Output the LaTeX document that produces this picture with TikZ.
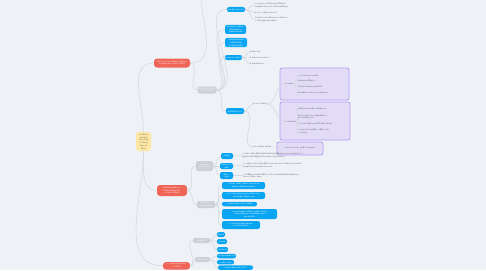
\documentclass[tikz,border=0pt]{standalone}
\usepackage{fontspec}
\newfontfamily\thfont[Script=Thai]{Loma}
\usetikzlibrary{backgrounds}
\definecolor{bg}{HTML}{EEF2F6}
\definecolor{lineC}{HTML}{D3DAE1}
\definecolor{blueC}{HTML}{0AA5F2}
\definecolor{redC}{HTML}{EF6558}
\definecolor{grayC}{HTML}{CDD1D5}
\definecolor{yelC}{HTML}{FDE7A2}
\definecolor{purF}{HTML}{E3DCF6}
\definecolor{purD}{HTML}{B79CF2}
\definecolor{txt}{HTML}{5A5F66}
\tikzset{
  base/.style={inner sep=0pt, align=center, font=\thfont\fontsize{2}{2.7}\selectfont, rounded corners=2pt},
  sz/.style 2 args={minimum width=#1pt, minimum height=#2pt},
  bnode/.style={base, fill=blueC, text=white},
  rnode/.style={base, fill=redC, text=white, rounded corners=3pt},
  gnode/.style={base, fill=grayC, text=white},
  cnode/.style={base, fill=yelC, text=txt, rounded corners=3pt},
  tnode/.style={base, text=txt, align=left, anchor=west},
  pbox/.style={fill=purF, draw=purD, line width=0.8pt, rounded corners=2pt},
  conn/.style={draw=lineC, line width=0.6pt},
  cv/.style={out=0, in=180}
}
\begin{document}
\begin{tikzpicture}[x=1pt, y=-1pt]
\useasboundingbox (0,0) rectangle (486,270);
% central
\node[cnode, sz={15}{19}] (c) at (143.5,141.5) {การพัฒนา\\หลักสูตร\\และการจัด\\การเรียนรู้\\ในสถาน\\ศึกษา};
% main branches
\node[rnode, sz={36}{9}] (r1) at (172,63) {หลักการและแนวคิดของการพัฒนา\\หลักสูตรและการจัดการเรียนรู้};
\node[rnode, sz={30}{11}] (r2) at (172,190.5) {องค์ประกอบของการ\\พัฒนาหลักสูตรและ\\การจัดการเรียนรู้};
\node[rnode, sz={27}{7.5}] (r3) at (176.5,265.8) {การวัดและประเมินผล\\การเรียนรู้};
% gray
\coordinate (g0) at (200,-12);
\node[gnode, sz={19}{7}] (g1) at (207,90) {ประเภทของหลักสูตร\\และการเรียนรู้};
\node[gnode, sz={17}{10}] (g2) at (204.5,166) {รูปแบบการ\\จัดการเรียนรู้};
\node[gnode, sz={18}{7}] (g3) at (206,204.5) {ขั้นตอนการ\\พัฒนาหลักสูตร};
\node[gnode, sz={17}{5}] (g4) at (201.5,240.5) {เครื่องมือ};
\node[gnode, sz={15}{5}] (g5) at (202.5,259.5) {วิธีการวัดผล};
% blue branch 1
\node[bnode, sz={18}{5}] (b1) at (236,9.5) {หลักสูตรแกนกลาง};
\node[bnode, sz={21}{9}] (b2) at (235.5,29.5) {หลักสูตรสถานศึกษา\\ที่สอดคล้องกับ\\บริบทของชุมชน};
\node[bnode, sz={22}{9}] (b3) at (236,42.5) {หลักสูตรท้องถิ่นที่\\เน้นผู้เรียนเป็น\\สำคัญและยั่งยืน};
\node[bnode, sz={17}{5}] (b4) at (233.5,57.5) {มาตรฐานการเรียนรู้};
\node[bnode, sz={18}{6}] (b5) at (235,111) {ตัวชี้วัดและสาระ};
% texts of b1
\node[tnode] (t1a) at (255,5) {มาตรฐานการเรียนรู้และตัวชี้วัดของ\\หลักสูตรแกนกลางการศึกษาขั้นพื้นฐาน};
\node[tnode] (t1b) at (255,12.5) {สาระการเรียนรู้แกนกลาง};
\node[tnode] (t1c) at (255,19.5) {โครงสร้างเวลาเรียนและการจัดหน่วย\\การเรียนรู้ของสถานศึกษา};
% texts of b4
\node[tnode] (t4a) at (250,52) {ด้านความรู้};
\node[tnode] (t4b) at (250,58) {ด้านทักษะกระบวนการ};
\node[tnode] (t4c) at (250,64) {ด้านคุณลักษณะ};
% texts of b5
\node[tnode] (t5a) at (253,104) {สาระการเรียนรู้};
\node[tnode] (t5b) at (253,147) {กิจกรรมพัฒนาผู้เรียน};
% purple boundary contents
\node[tnode] (l1) at (285,84) {สาระหลัก};
\node[tnode] (p1a) at (298,76) {ภาษาไทยและวรรณคดี};
\node[tnode] (p1b) at (298,81) {คณิตศาสตร์พื้นฐาน};
\node[tnode] (p1c) at (298,87) {วิทยาศาสตร์และเทคโนโลยี};
\node[tnode] (p1d) at (298,93) {สังคมศึกษา ศาสนา และวัฒนธรรม};
\node[tnode] (l2) at (285,121) {สาระเพิ่มเติม};
\node[tnode] (p2a) at (298,109) {สุขศึกษาและพลศึกษาเพื่อสุขภาพ};
\node[tnode] (p2b) at (298,116.5) {ศิลปะ ดนตรี และนาฏศิลป์เพื่อการ\\สร้างสรรค์ผลงาน};
\node[tnode] (p2c) at (298,124) {การงานอาชีพและเทคโนโลยีสารสนเทศ};
\node[tnode] (p2d) at (298,131.5) {ภาษาต่างประเทศเพื่อการสื่อสารและ\\การเรียนรู้};
\node[base, text=txt] (p3a) at (300,148) {กิจกรรมแนะแนว ลูกเสือ และชุมนุม};
% branch 2 blue
\node[bnode, sz={12}{6}] (c1) at (227,156) {ทฤษฎี};
\node[bnode, sz={13}{6}] (c2) at (226.5,166) {ทักษะการ\\สอน};
\node[bnode, sz={13}{7}] (c3) at (226.5,175.5) {สื่อการ\\สอน};
\node[tnode] (ct1) at (242,155.5) {การจัดการเรียนรู้ที่เน้นผู้เรียนเป็นสำคัญโดยใช้กระบวนการกลุ่มและการ\\ปฏิบัติจริงเพื่อให้ผู้เรียนสร้างองค์ความรู้ด้วยตนเอง};
\node[tnode] (ct2) at (243,165.5) {การจัดกิจกรรมการเรียนรู้ที่หลากหลายตามความถนัดและความสนใจ\\ของผู้เรียนแต่ละคนอย่างเหมาะสม};
\node[tnode] (ct3) at (243,175.5) {การใช้สื่อและเทคโนโลยีในการจัดการเรียนรู้เพื่อเพิ่มประสิทธิภาพ\\ของการเรียนการสอน};
\node[bnode, sz={43}{7}] (d1) at (243.5,185.5) {การวิเคราะห์ความต้องการและสภาพ\\ปัญหาของผู้เรียนและชุมชน};
\node[bnode, sz={43}{7}] (d2) at (243.5,195.5) {การกำหนดจุดมุ่งหมายและเนื้อหาสาระ\\ของหลักสูตรให้เหมาะสม};
\node[bnode, sz={35}{4.5}] (d3) at (239.5,204) {การจัดประสบการณ์การเรียนรู้};
\node[bnode, sz={55}{10}] (d4) at (249.5,214) {การนำหลักสูตรไปใช้ในการจัดการเรียนรู้\\ในห้องเรียนและการนิเทศติดตามผล\\อย่างต่อเนื่อง};
\node[bnode, sz={38}{8}] (d5) at (241,225) {การประเมินผลหลักสูตรและ\\การปรับปรุงพัฒนา};
% branch 3 blue
\node[bnode, sz={8}{5}] (e1) at (221,234.5) {ข้อสอบ};
\node[bnode, sz={10}{5}] (e2) at (222,241.5) {แบบวัด};
\node[bnode, sz={11}{5}] (e3) at (222.5,249.5) {แบบสังเกต};
\node[bnode, sz={19}{4.5}] (f1) at (226.5,256) {การสังเกตพฤติกรรม};
\node[bnode, sz={17}{4.5}] (f2) at (225.5,262.2) {การสัมภาษณ์};
\node[bnode, sz={35}{4.4}] (f3) at (235.5,267.6) {การประเมินตามสภาพจริง};
\begin{pgfonlayer}{background}
\fill[bg] (0,0) rectangle (486,270);
\draw[pbox] (280,68) rectangle (349,100);
\draw[pbox] (280,102) rectangle (350,140);
\draw[pbox] (277,142) rectangle (323,155);
\draw[conn] (c.north) to[out=90, in=180] (r1.west);
\draw[conn] (c.south) to[out=-90, in=180] (r2.west);
\draw[conn] (c.south) to[out=-90, in=180] (r3.west);
\draw[conn] (r1.east) to[out=0, in=-90] (g0);
\draw[conn] (r1.east) to[cv] (g1.west);
\foreach \k in {b1,b2,b3,b4,b5} \draw[conn] (g1.east) to[cv] (\k.west);
\foreach \k in {t1a,t1b,t1c} \draw[conn] (b1.east) to[cv] (\k.west);
\foreach \k in {t4a,t4b,t4c} \draw[conn] (b4.east) to[cv] (\k.west);
\foreach \k in {t5a,t5b} \draw[conn] (b5.east) to[cv] (\k.west);
\foreach \k in {l1,l2} \draw[conn] (t5a.east) to[cv] (\k.west);
\draw[conn] (t5b.east) to[cv] (p3a.west);
\foreach \k in {p1a,p1b,p1c,p1d} \draw[conn] (l1.east) to[cv] (\k.west);
\foreach \k in {p2a,p2b,p2c,p2d} \draw[conn] (l2.east) to[cv] (\k.west);
\draw[conn] (r2.east) to[cv] (g2.west);
\draw[conn] (r2.east) to[cv] (g3.west);
\foreach \k in {c1,c2,c3} \draw[conn] (g2.east) to[cv] (\k.west);
\draw[conn] (c1.east) to[cv] (ct1.west);
\draw[conn] (c2.east) to[cv] (ct2.west);
\draw[conn] (c3.east) to[cv] (ct3.west);
\foreach \k in {d1,d2,d3,d4,d5} \draw[conn] (g3.east) to[cv] (\k.west);
\draw[conn] (r3.east) to[cv] (g4.west);
\draw[conn] (r3.east) to[cv] (g5.west);
\foreach \k in {e1,e2,e3} \draw[conn] (g4.east) to[cv] (\k.west);
\foreach \k in {f1,f2,f3} \draw[conn] (g5.east) to[cv] (\k.west);
\end{pgfonlayer}
\end{tikzpicture}
\end{document}
